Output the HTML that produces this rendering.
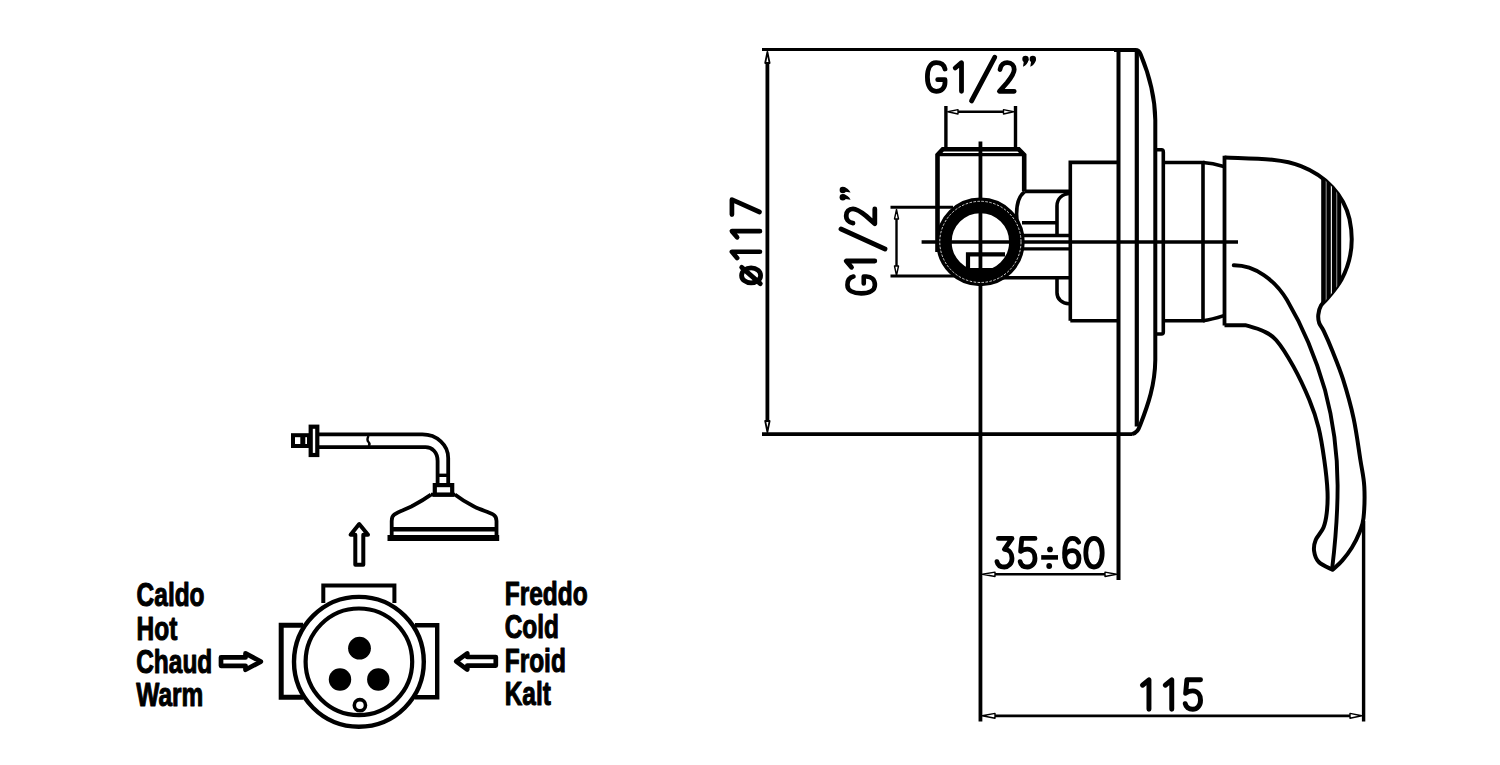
<!DOCTYPE html>
<html><head><meta charset="utf-8">
<style>
html,body{margin:0;padding:0;background:#fff;width:1500px;height:765px;overflow:hidden}
svg{display:block}
text{font-family:"Liberation Sans",sans-serif;fill:#000}
</style></head><body>
<svg width="1500" height="765" viewBox="0 0 1500 765">
<g fill="none" stroke="#000" stroke-linecap="butt" stroke-linejoin="miter">
<!-- ø117 dimension -->
<path d="M762,49.6 H1136" stroke-width="3"/>
<path d="M762,434.1 H1132" stroke-width="3.6"/>
<path d="M767.4,63 V421" stroke-width="3.8"/>
<path d="M767.4,52 L765.2,63 H769.6 Z" stroke-width="1.8" stroke-linejoin="round"/>
<path d="M767.4,432 L765.2,421 H769.6 Z" stroke-width="1.8" stroke-linejoin="round"/>
<!-- G1/2 vertical dim -->
<path d="M890.5,207.3 H953" stroke-width="3"/>
<path d="M890.5,276 H962" stroke-width="3"/>
<path d="M1000,277.7 H1070" stroke-width="3.4"/>
<path d="M896.5,219 V266" stroke-width="2.4"/>
<path d="M896.5,209.5 L894.5,219 H898.5 Z" stroke-width="1.4" stroke-linejoin="round"/>
<path d="M896.5,275.5 L894.5,266 H898.5 Z" stroke-width="1.4" stroke-linejoin="round"/>
<!-- G1/2 top dim -->
<path d="M945.9,106 V148" stroke-width="3.4"/>
<path d="M1015.5,106 V148" stroke-width="3.4"/>
<path d="M958,111.8 H1003.5" stroke-width="2.6"/>
<path d="M947.8,111.8 L958,109.6 V114 Z" stroke-width="1.4" stroke-linejoin="round"/>
<path d="M1013.6,111.8 L1003.5,109.6 V114 Z" stroke-width="1.4" stroke-linejoin="round"/>
<!-- pipe cap -->
<path d="M937.5,252 V155 L942.8,149.3 H1018.7 L1024.2,155 V191" stroke-width="4.6"/>
<path d="M938,154.6 H1024" stroke-width="3.4"/>
<!-- body -->
<path d="M1024.2,191.4 H1070.4" stroke-width="3.8"/>
<path d="M1024.4,191.8 C1019,196 1016.6,204 1016.6,214 L1017,221" stroke-width="3.6"/>
<path d="M1022,222.7 H1057" stroke-width="3.6"/>
<path d="M1070.4,193.3 C1062,194 1057,199 1057,206 V234" stroke-width="3.6"/>
<path d="M1022,235.5 H1070.4 M1022,248.9 H1070.4" stroke-width="3.4"/>
<path d="M1057,279 V292.7 C1057,299 1062,303.5 1069,303.7" stroke-width="3.6"/>
<!-- nut -->
<path d="M1070.3,320.7 V162.4 H1118" stroke-width="3.6"/>
<path d="M1070.3,320.7 H1118" stroke-width="3.6"/>
<!-- plate -->
<path d="M1118.5,49.5 V580" stroke-width="4"/>
<path d="M1136.8,51.5 V426.5" stroke-width="4.2"/>
<path d="M1114,50 H1135.6 C1138,50 1139.5,51.5 1140.5,54 C1148,72 1155,95 1155.3,120 V360 C1155,385 1148,405 1140.2,425 C1138.5,429.5 1137,433 1132,434.1" stroke-width="4"/>
<!-- flange -->
<path d="M1155,149.8 H1161.5 Q1163.3,149.8 1163.3,152 V332 Q1163.3,334 1161.5,334 H1155" stroke-width="3.6"/>
<!-- collar -->
<path d="M1163.3,162.5 H1203 V320.7 H1163.3" stroke-width="3.6"/>
<path d="M1203,162.5 C1210,163 1217,164.5 1223.8,166.5 M1203,320.7 C1210,320 1217,318 1223.8,315.7" stroke-width="3.4"/>
<!-- handle -->
<path d="M1224.5,155.8 V325.5" stroke-width="3.8"/>
<path d="M1224.5,157.4 C1252,158.6 1282,158.2 1301,166.2 C1326,176 1344,195 1349.5,219 C1354,240 1351.5,261 1341.5,279.5 C1337,287.5 1331.5,293.5 1327,299 C1326.0,300.1 1322.5,303.0 1321.0,305.6 C1319.5,308.2 1318.6,311.9 1318.3,314.8 C1318.0,317.7 1318.3,320.3 1319.2,323.0 C1320.1,325.7 1321.7,326.7 1323.8,331.2 C1325.9,335.7 1328.8,342.0 1332.0,350.0 C1335.2,358.0 1339.4,367.8 1343.0,379.2 C1346.6,390.6 1350.7,404.9 1353.6,418.4 C1356.5,431.9 1358.6,448.6 1360.4,460.0 C1362.2,471.4 1363.8,477.0 1364.3,486.7 C1364.8,496.4 1364.3,510.4 1363.5,518.0 C1362.7,525.6 1361.5,527.2 1359.6,532.2 C1357.6,537.2 1354.7,543.1 1351.8,547.8 C1348.9,552.5 1345.6,556.7 1342.4,560.4 C1339.2,564.1 1334.2,568.2 1332.5,569.8 C1330.2,568.5 1321.9,565.1 1318.8,562.0 C1315.7,558.9 1314.6,554.7 1314.1,551.0 C1313.6,547.3 1314.1,543.9 1315.7,540.0 C1317.3,536.1 1321.7,532.0 1323.5,527.5 C1325.3,523.0 1326.0,519.3 1326.7,513.3 C1327.4,507.3 1327.9,500.3 1327.5,491.4 C1327.1,482.5 1325.8,470.6 1324.3,460.0 C1322.8,449.4 1321.1,437.9 1318.6,427.8 C1316.1,417.7 1313.4,409.8 1309.2,399.6 C1305.0,389.4 1299.0,376.5 1293.5,366.6 C1288.0,356.7 1281.4,346.1 1276.3,340.2 C1271.2,334.3 1268.1,333.5 1263.1,331.0 C1258.0,328.5 1248.8,326.2 1246.0,325.3 H1224.5" stroke-width="4.0" stroke-linejoin="round"/>
<path d="M1233.7,265.2 C1255,265 1275,280 1287,300 C1300,322 1315,355 1325,390 C1333,420 1337.5,450 1337.6,485 C1337.7,515 1335,545 1332.2,568.2" stroke-width="3.9" stroke-linecap="round"/>
<!-- centerlines -->
<path d="M980.45,141.5 V721.5" stroke-width="3.8"/>
<path d="M921.6,242 H1238" stroke-width="3.4"/>
<!-- 35÷60 dim -->
<path d="M995,574.3 H1105" stroke-width="2.6"/>
<path d="M982.5,574.3 L995,572.1 V576.5 Z M1116.5,574.3 L1105,572.1 V576.5 Z" stroke-width="1.4" stroke-linejoin="round"/>
<!-- 115 dim -->
<path d="M1363.6,521 V721.5" stroke-width="3.4"/>
<path d="M995,715.9 H1350" stroke-width="2.6"/>
<path d="M982.2,715.8 L995,713.4 V718.2 Z M1361.8,715.8 L1350,713.4 V718.2 Z" stroke-width="1.4" stroke-linejoin="round"/>
</g>
<!-- hatching band -->
<clipPath id="knob"><path d="M1224.5,157.4 C1252,158.6 1282,158.2 1301,166.2 C1326,176 1344,195 1349.5,219 C1354,240 1351.5,261 1341.5,279.5 C1337,287.5 1331.5,293.5 1327,299 L1322,304 L1318,320 L1200,320 Z"/></clipPath>
<g clip-path="url(#knob)">
<rect x="1321.2" y="150" width="20" height="160" fill="#000"/>
<path d="M1326.2,150 V310 M1336.7,150 V310" stroke="#808080" stroke-width="1.2"/>
<path d="M1331.4,150 V310" stroke="#e8e8e8" stroke-width="1.2"/>
</g>
<!-- ring -->
<g fill="none" stroke="#000">
<circle cx="980.4" cy="241.9" r="36.5" stroke-width="15.6"/>
<circle cx="980.4" cy="241.9" r="40.6" stroke="#fff" stroke-width="0.8" stroke-dasharray="2.5 1.5"/>
<path d="M968,268 V254.3 H1005" stroke-width="4.2"/>
<path d="M967,269.5 H994" stroke-width="3"/>
</g>

<!-- left diagram -->
<g fill="none" stroke="#000" stroke-width="4" stroke-linejoin="miter">
<rect x="293" y="435.2" width="16" height="10.8"/>
<path d="M302.8,435 V446" stroke-width="5"/>
<rect x="310.7" y="426.7" width="6.6" height="28.3" stroke-width="4.2"/>
<path d="M319,434.4 H422.3 C437,434.4 448.2,445 448.2,458 V484 M319,447.2 H425.5 C432,447.2 437.6,452 437.6,461 V484" stroke-width="3.8"/>
<path d="M368.5,436 Q366.5,440 368.5,442 Q370.5,444 368.5,446" stroke-width="2.4"/>
<path d="M437.6,475.3 H448.2" stroke-width="3.4"/>
<rect x="434.8" y="485.1" width="17.4" height="9.6" stroke-width="4.2"/>
<path d="M431,494.6 C422,501 416,504 411.4,506.5 C405,509.5 398,512 394.5,514.4 C392,516 391.7,518 391.7,521 V536 M454.8,494.6 C463,501 469,504 474,506.5 C480,509.5 488,512 493,514.4 C496,516 496.5,518 496.5,521 V536 M431,494.6 H455" stroke-width="3.8"/>
<path d="M390,529.3 H498" stroke-width="4.6"/>
<path d="M387.5,538 H499.2" stroke-width="6.2"/>
<path d="M359.2,524 L350.6,534.8 H355.3 V564.8 H363.3 V534.8 H368 Z" stroke-width="4" stroke-linejoin="round"/>
<path d="M323.3,603 V585.5 H394.4 V603" stroke-width="4"/>
<path d="M303,625.2 H281.2 V697.3 H303" stroke-width="5"/>
<path d="M415,625.2 H437.2 V697.3 H415" stroke-width="4.4"/>
<circle cx="358.9" cy="661.8" r="64.9" stroke-width="4.4"/>
<circle cx="358.9" cy="661.8" r="53.3" stroke-width="4.2"/>
<circle cx="359.9" cy="705.2" r="5.6" stroke-width="3.6"/>
<path d="M221,657.4 H245.5 V653.4 L260.8,661.6 L245.5,669.8 V665.8 H221 Z" stroke-width="4.7" stroke-linejoin="round"/>
<path d="M456.2,661.4 L467.3,653.4 V657 H495.8 V665.6 H467.3 V669.6 Z" stroke-width="4.7" stroke-linejoin="round"/>
</g>
<g fill="#000">
<circle cx="359.5" cy="648.2" r="11.4"/>
<circle cx="340" cy="679.5" r="11.2"/>
<circle cx="378.3" cy="679.5" r="11.2"/>
</g>
<g font-size="34" font-weight="bold" stroke="#000" stroke-width="1.1" stroke-linejoin="round">
<text transform="translate(136.60000000000002 606.2) scale(0.72 1)">Caldo</text>
<text transform="translate(136.60000000000002 640.2) scale(0.72 1)">Hot</text>
<text transform="translate(136.20000000000002 673.3) scale(0.72 1)">Chaud</text>
<text transform="translate(136.20000000000002 706.4) scale(0.72 1)">Warm</text>
<text transform="translate(504.7 605.4) scale(0.72 1)">Freddo</text>
<text transform="translate(504.7 638.1) scale(0.72 1)">Cold</text>
<text transform="translate(504.7 671.8) scale(0.72 1)">Froid</text>
<text transform="translate(504.7 705) scale(0.72 1)">Kalt</text>
</g>

<g fill="none" stroke="#000" stroke-width="4.8" stroke-linecap="round" stroke-linejoin="round"><path transform="translate(925.2 93.5) scale(1.0)" d="M19.8,-24.5 C18.8,-29 15.5,-30.8 11,-30.8 C5,-30.8 2.2,-24.5 2.2,-16.5 C2.2,-7.5 5.5,-2.2 11,-2.2 C16.5,-2.2 19.8,-6 19.8,-11 V-13.8 H12.5"/><path transform="translate(953.0 93.5) scale(1.0)" d="M2.2,-25.5 L8.5,-30.8 V-2.2"/><path transform="translate(997.2 93.5) scale(1.0)" d="M2.8,-24 C3.5,-29 7,-30.8 10,-30.8 C14.5,-30.8 17,-28 17,-24 C17,-20 14,-16 10,-11 L2.2,-2.2 H17"/><path d="M971.5,101 L994.8,57.2"/><path transform="translate(994.8 569.2) scale(1.0)" d="M3.6,-30.8 H17.2 L9.6,-19.8 C14.5,-19.8 17.2,-15.5 17.2,-11 C17.2,-5.5 13.5,-2.2 9.6,-2.2 C5.5,-2.2 2.8,-4.5 2.2,-7.5"/><path transform="translate(1018.0 569.2) scale(1.0)" d="M17,-30.8 H3.8 L2.6,-17.8 C4.5,-19.5 7,-20 9.5,-20 C14.5,-20 17,-15.5 17,-11 C17,-5.5 13.5,-2.2 9.5,-2.2 C5.5,-2.2 2.8,-4.5 2.2,-7.5"/><path transform="translate(1062.4 569.2) scale(1.0)" d="M16.2,-27 C15,-29.5 13,-30.8 10,-30.8 C4.5,-30.8 2.2,-24 2.2,-16 C2.2,-6.5 5,-2.2 9.5,-2.2 C14,-2.2 16.6,-6 16.6,-10.5 C16.6,-15.5 14,-18.5 9.8,-18.5 C6,-18.5 3,-16 2.3,-12"/><path transform="translate(1083.6 569.2) scale(1.0)" d="M10.4,-30.8 C15.5,-30.8 18.6,-25 18.6,-16.5 C18.6,-8 15.5,-2.2 10.4,-2.2 C5.3,-2.2 2.2,-8 2.2,-16.5 C2.2,-25 5.3,-30.8 10.4,-30.8 Z"/><path transform="translate(1140.2 711.5) scale(1.03)" d="M2.2,-25.5 L8.5,-30.8 V-2.2"/><path transform="translate(1163.0 711.5) scale(1.03)" d="M2.2,-25.5 L8.5,-30.8 V-2.2"/><path transform="translate(1183.0 711.5) scale(1.03)" d="M17,-30.8 H3.8 L2.6,-17.8 C4.5,-19.5 7,-20 9.5,-20 C14.5,-20 17,-15.5 17,-11 C17,-5.5 13.5,-2.2 9.5,-2.2 C5.5,-2.2 2.8,-4.5 2.2,-7.5"/><g transform="translate(762.1 286) rotate(-90)"><path transform="translate(0.2 0) scale(1.0)" d="M10.4,-20.5 C14.6,-20.5 17.9,-16.5 17.9,-11 C17.9,-5.5 14.6,-1.5 10.4,-1.5 C6.2,-1.5 2.9,-5.5 2.9,-11 C2.9,-16.5 6.2,-20.5 10.4,-20.5 Z M2.2,-1.8 L18.4,-20.4"/><path transform="translate(25.9 0) scale(0.98)" d="M2.2,-25.5 L8.5,-30.8 V-2.2"/><path transform="translate(46.5 0) scale(0.98)" d="M2.2,-25.5 L8.5,-30.8 V-2.2"/><path transform="translate(69.3 0) scale(0.98)" d="M2.2,-30.8 H17.4 L4.8,-2.6"/></g><g transform="translate(877 297) rotate(-90)"><path transform="translate(1.5 0) scale(0.96)" d="M19.8,-24.5 C18.8,-29 15.5,-30.8 11,-30.8 C5,-30.8 2.2,-24.5 2.2,-16.5 C2.2,-7.5 5.5,-2.2 11,-2.2 C16.5,-2.2 19.8,-6 19.8,-11 V-13.8 H12.5"/><path transform="translate(27.5 0) scale(1.0)" d="M2.2,-25.5 L8.5,-30.8 V-2.2"/><path transform="translate(71.1 0) scale(1.0)" d="M2.8,-24 C3.5,-29 7,-30.8 10,-30.8 C14.5,-30.8 17,-28 17,-24 C17,-20 14,-16 10,-11 L2.2,-2.2 H17"/><path d="M48,8 L68,-36"/><g fill="#000" stroke="none"><circle cx="99.7" cy="-34.2" r="3.2"/><circle cx="107" cy="-34.2" r="3.2"/><path d="M98.2,-33.2 L102.8,-34.2 Q102.2,-28.7 97.2,-26.4 Z M105.5,-33.2 L110.1,-34.2 Q109.5,-28.7 104.5,-26.4 Z"/></g></g></g><g fill="#000" stroke="none"><circle cx="1025.5" cy="59" r="3.2"/><circle cx="1032.8" cy="59" r="3.2"/><path d="M1024,60 L1028.6,59 Q1028,64.5 1023,66.8 Z M1031.3,60 L1035.9,59 Q1035.3,64.5 1030.3,66.8 Z"/></g><path d="M1041.2,557.4 H1058" stroke="#000" stroke-width="4.6"/><g fill="#000" stroke="none"><circle cx="1050" cy="549.4" r="2.9"/><circle cx="1049.2" cy="566" r="2.9"/></g>
</svg>
</body></html>
